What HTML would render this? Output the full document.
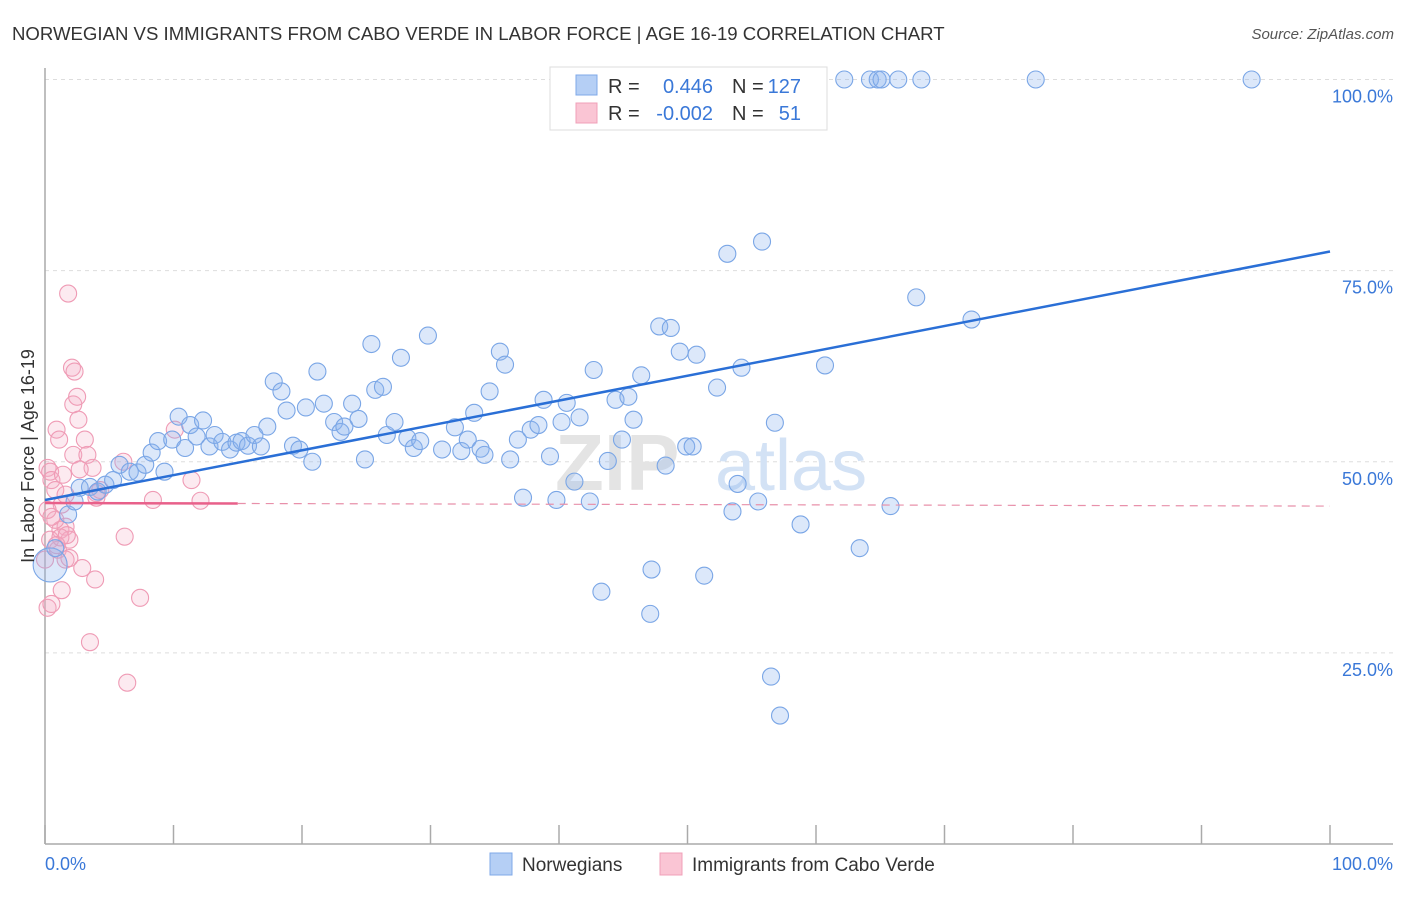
<!DOCTYPE html>
<html><head><meta charset="utf-8"><style>
body{margin:0;background:#fff;font-family:"Liberation Sans",sans-serif;}
svg text{font-family:"Liberation Sans",sans-serif;}
</style></head><body>
<svg id="chart" width="1406" height="892" xmlns="http://www.w3.org/2000/svg">
<text x="12" y="40" font-size="18.6" fill="#333">NORWEGIAN VS IMMIGRANTS FROM CABO VERDE IN LABOR FORCE | AGE 16-19 CORRELATION CHART</text>
<text x="1394" y="39" font-size="15" fill="#555" text-anchor="end" font-style="italic">Source: ZipAtlas.com</text>
<g id="grid"></g>
<text x="555" y="490" font-size="80" fill="#e4e4e4" font-family="Liberation Serif" font-weight="bold">ZIP</text>
<text x="715" y="490" font-size="72" fill="#d3e2f5">atlas</text>
<g id="axes"></g>
<g id="pink"></g>
<g id="blue"></g>
<g id="lines"></g>
<text transform="translate(34,456) rotate(-90)" font-size="18" fill="#333" text-anchor="middle">In Labor Force | Age 16-19</text>
<g>
<rect x="550" y="67" width="277" height="63" fill="#fff" stroke="#ddd"/>
<rect x="576" y="75" width="21" height="20" fill="#b5cff5" stroke="#7fa8e8"/>
<rect x="576" y="103" width="21" height="20" fill="#fac5d4" stroke="#f0a0b8"/>
<text x="608" y="93" font-size="20" fill="#333">R =</text>
<text x="713" y="93" font-size="20" fill="#3a78d8" text-anchor="end">0.446</text>
<text x="732" y="93" font-size="20" fill="#333">N =</text>
<text x="801" y="93" font-size="20" fill="#3a78d8" text-anchor="end">127</text>
<text x="608" y="120" font-size="20" fill="#333">R =</text>
<text x="713" y="120" font-size="20" fill="#3a78d8" text-anchor="end">-0.002</text>
<text x="732" y="120" font-size="20" fill="#333">N =</text>
<text x="801" y="120" font-size="20" fill="#3a78d8" text-anchor="end">51</text>
</g>
<g>
<rect x="490" y="853" width="22" height="22" fill="#b5cff5" stroke="#7fa8e8"/>
<text x="522" y="871" font-size="19" fill="#333">Norwegians</text>
<rect x="660" y="853" width="22" height="22" fill="#fac5d4" stroke="#f0a0b8"/>
<text x="692" y="871" font-size="19" fill="#333">Immigrants from Cabo Verde</text>
</g>
</svg>
<script>
const blueX=[0.4,0.8,1.8,2.3,2.7,3.5,4.1,4.7,5.3,5.8,6.6,7.2,7.8,8.3,8.8,9.3,9.9,10.4,10.9,11.3,11.8,12.3,12.8,13.2,13.8,14.4,14.9,15.3,15.8,16.3,16.8,17.3,17.8,18.4,18.8,19.3,19.8,20.3,20.8,21.2,21.7,22.5,23.0,23.3,23.9,24.4,24.9,25.4,25.7,26.3,26.6,27.2,27.7,28.2,28.7,29.2,29.8,30.9,31.9,32.4,32.9,33.4,33.9,34.2,34.6,35.4,35.8,36.2,36.8,37.2,37.8,38.4,38.8,39.3,39.8,40.2,40.6,41.2,41.6,42.4,42.7,43.3,43.8,44.4,44.9,45.4,45.8,46.4,47.2,47.1,47.8,48.3,48.7,49.4,49.9,50.4,50.7,51.3,52.3,53.1,53.5,53.9,54.2,55.5,55.8,56.5,56.8,57.2,58.8,60.7,62.2,63.4,64.2,64.8,65.1,65.8,66.4,67.8,68.2,72.1,77.1,93.9,57.8];
const blueY=[36.5,38.7,43.1,44.8,46.6,46.7,46.1,47.0,47.6,49.6,48.7,48.6,49.6,51.2,52.7,48.7,52.9,55.9,51.8,54.8,53.3,55.4,52.0,53.5,52.6,51.6,52.5,52.7,52.1,53.5,52.0,54.6,60.5,59.2,56.7,52.1,51.6,57.1,50.0,61.8,57.6,55.2,53.9,54.6,57.6,55.6,50.3,65.4,59.4,59.8,53.5,55.2,63.6,53.1,51.8,52.7,66.5,51.6,54.5,51.4,52.9,56.4,51.7,50.9,59.2,64.4,62.7,50.3,52.9,45.3,54.2,54.8,58.1,50.7,45.0,55.2,57.7,47.4,55.8,44.8,62.0,33.0,50.1,58.1,52.9,58.5,55.5,61.3,35.9,30.1,67.7,49.5,67.5,64.4,52.0,52.0,64.0,35.1,59.7,77.2,43.5,47.1,62.3,44.8,78.8,21.9,55.1,16.8,41.8,62.6,100,38.7,100,100,100,44.2,100,71.5,100,68.6,100,100,100];
const pinkX=[0.2,0.5,0.2,0.4,0.5,0.8,0.9,1.1,1.3,1.6,1.4,1.8,2.1,2.3,2.2,2.5,2.6,2.2,3.1,3.3,3.7,4.0,1.2,0.8,0.4,1.0,1.6,1.9,2.9,3.9,1.3,3.5,6.4,7.4,6.2,8.4,12.1,11.4,10.1,6.1,4.0,1.6,1.9,0.2,1.2,0.9,0.5,0,2.7,4.3,1.7];
const pinkY=[30.9,31.4,49.2,48.7,47.6,46.3,54.2,52.9,44.4,41.5,48.3,72.0,62.3,61.8,57.5,58.5,55.5,50.9,52.9,50.9,49.2,45.9,41.1,42.4,39.8,38.5,37.2,37.4,36.1,34.6,33.2,26.4,21.1,32.2,40.2,45.0,44.9,47.6,54.2,50.0,45.3,45.7,39.8,43.7,40.1,39.1,42.8,37.2,49.0,46.3,40.4];
const blueTrend=[45.0,77.5];
const pinkTrend=[44.6,44.2];
const yTicks=[25,50,75,100];
const yTickLabels=["25.0%","50.0%","75.0%","100.0%"];
const NS="http://www.w3.org/2000/svg";
const X0=45,X1=1330,Y0=844,YS=7.645;
const sx=v=>X0+(X1-X0)*v/100, sy=v=>Y0-YS*v;
function mk(tag,attrs,parent){const e=document.createElementNS(NS,tag);for(const k in attrs)e.setAttribute(k,attrs[k]);parent.appendChild(e);return e;}
const grid=document.getElementById('grid'),axes=document.getElementById('axes');
yTicks.forEach((t,i)=>{
 const l=mk('line',{x1:X0,x2:1393,y1:sy(t),y2:sy(t),stroke:'#ddd','stroke-dasharray':'4,4'},grid);
 
 
 const tx=mk('text',{x:1393,y:sy(t)+23,'font-size':18,fill:'#3a78d8','text-anchor':'end'},axes);
 tx.textContent=yTickLabels[i];
 
 
});
const ax=mk('line',{x1:X0,x2:X0,y1:68,y2:Y0,stroke:'#aaa','stroke-width':1.5},axes);


const bx=mk('line',{x1:X0,x2:1393,y1:Y0,y2:Y0,stroke:'#aaa','stroke-width':1.5},axes);


for(let i=0;i<=10;i++){
 const t=mk('line',{x1:sx(i*10),x2:sx(i*10),y1:825,y2:Y0,stroke:'#aaa','stroke-width':1.5},axes);
 
 
}
const xl0=mk('text',{x:45,y:870,'font-size':18,fill:'#3a78d8'},axes);xl0.textContent='0.0%';


const xl1=mk('text',{x:1393,y:870,'font-size':18,fill:'#3a78d8','text-anchor':'end'},axes);xl1.textContent='100.0%';


const pg=document.getElementById('pink');
pinkX.forEach((x,i)=>{
 const c=mk('circle',{cx:sx(x),cy:sy(pinkY[i]),r:8.5,fill:'rgba(245,170,195,0.25)',stroke:'#ef9bb5','stroke-width':1.1},pg);
 
 
});
const bg=document.getElementById('blue');
blueX.forEach((x,i)=>{
 const c=mk('circle',{cx:sx(x),cy:sy(blueY[i]),r:i===0?17:8.5,fill:'rgba(140,180,240,0.3)',stroke:'#7aa6e6','stroke-width':1.1},bg);
 
 
});
const lg=document.getElementById('lines');
const bl=mk('line',{x1:sx(0),y1:sy(blueTrend[0]),x2:sx(100),y2:sy(blueTrend[1]),stroke:'#2a6fd6','stroke-width':2.5},lg);


const pv=x=>pinkTrend[0]+(pinkTrend[1]-pinkTrend[0])*x/100;
const ps=mk('line',{x1:sx(0),y1:sy(pv(0)),x2:sx(15),y2:sy(pv(15)),stroke:'#e8608a','stroke-width':2.5},lg);


const pd=mk('line',{x1:sx(15),y1:sy(pv(15)),x2:sx(100),y2:sy(pv(100)),stroke:'#e890aa','stroke-width':1.2,'stroke-dasharray':'8,6'},lg);


</script>
</body></html>
